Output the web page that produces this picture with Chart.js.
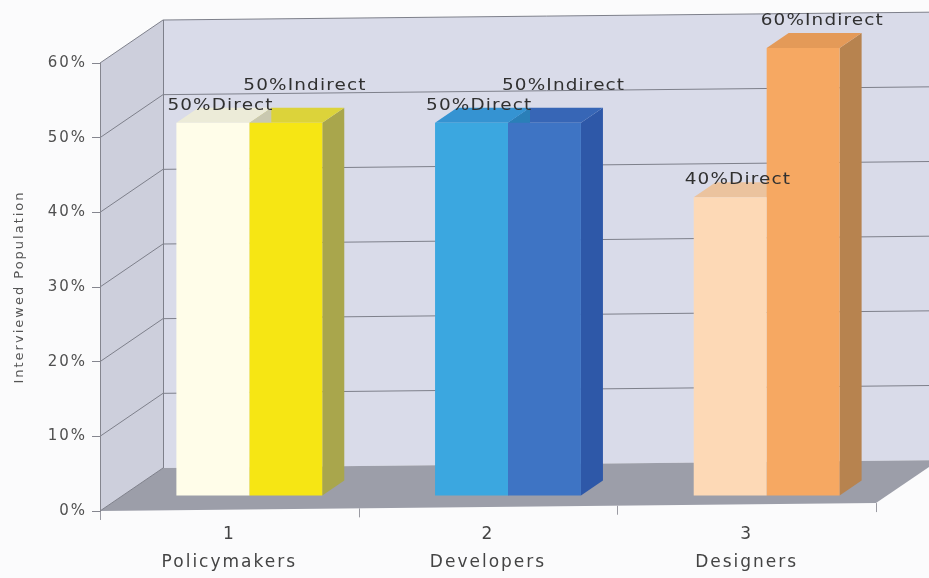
<!DOCTYPE html>
<html>
<head>
<meta charset="utf-8">
<script src="https://cdn.jsdelivr.net/npm/chart.js@4.4.1/dist/chart.umd.min.js"></script>
<style>
  html, body { margin: 0; padding: 0; background: #fbfbfc; }
</style>
</head>
<body>
<canvas id="surveyChart" width="929" height="578"></canvas>
<script>
const categories = [['1', 'Policymakers'], ['2', 'Developers'], ['3', 'Designers']];
const direct = [50, 50, 40];
const indirect = [50, 50, 60];
const yTicks = [0, 10, 20, 30, 40, 50, 60];

// front / top / side shades, one row per series
const frontColors = [['#fffde9', '#3ba7e0', '#fdd9b6'], ['#f6e614', '#3e74c4', '#f6a862']];
const topColors = [['#ecebd8', '#3593d2', '#ebc39e'], ['#dcd33a', '#3766b6', '#e49a58']];
const sideColors = [['#c9c8b0', '#2a7fb8', '#d4ab86'], ['#a9a64c', '#2e58a8', '#b7834f']];

const wallDepth = { x: 63, y: -43 };
const barShift = { x: 20, y: -15 };
const barDepth = { x: 22, y: -15 };
const rise = -0.0102; // back lines climb a little towards the right

function poly(ctx, pts) {
    ctx.beginPath();
    ctx.moveTo(pts[0][0], pts[0][1]);
    for (let i = 1; i < pts.length; i++) ctx.lineTo(pts[i][0], pts[i][1]);
    ctx.closePath();
    ctx.fill();
}

const depthPlugin = {
    id: 'depth',

    beforeDraw(chart) {
        const { ctx, chartArea: a, scales: { x, y } } = chart;
        ctx.letterSpacing = '2px';
        ctx.save();

        const bx = a.left + wallDepth.x;
        const far = chart.width + 80;
        const back = (px, v) => y.getPixelForValue(v) + wallDepth.y + rise * (px - bx);
        const frontY = (px) => a.bottom + rise * (px - a.left);

        ctx.strokeStyle = '#7e808b';
        ctx.lineWidth = 1;

        // side wall
        ctx.fillStyle = '#cdcfdc';
        poly(ctx, [[a.left, a.top], [bx, back(bx, 60)], [bx, back(bx, 0)], [a.left, a.bottom]]);

        // back wall
        ctx.fillStyle = '#d9dbe9';
        poly(ctx, [[bx, back(bx, 60)], [far, back(far, 60)], [far, back(far, 0)], [bx, back(bx, 0)]]);

        // floor
        ctx.fillStyle = '#9c9ea9';
        poly(ctx, [
            [a.left, a.bottom],
            [a.right, frontY(a.right)],
            [a.right + wallDepth.x, frontY(a.right) + wallDepth.y],
            [bx, back(bx, 0)]
        ]);

        // gridlines running along both walls
        ctx.beginPath();
        yTicks.forEach(v => {
            const py = y.getPixelForValue(v);
            ctx.moveTo(a.left, py);
            ctx.lineTo(bx, back(bx, v));
            if (v > 0) ctx.lineTo(far, back(far, v));
        });
        ctx.moveTo(bx + 0.5, back(bx, 60));
        ctx.lineTo(bx + 0.5, back(bx, 0));
        ctx.stroke();

        // category ticks under the floor edge
        ctx.strokeStyle = '#9a9aa2';
        ctx.beginPath();
        for (let k = 0; k <= categories.length; k++) {
            const px = Math.round(x.getPixelForDecimal(k / categories.length)) + 0.5;
            ctx.moveTo(px, frontY(px));
            ctx.lineTo(px, frontY(px) + 9);
        }
        ctx.stroke();
        ctx.restore();
    },

    // side and top faces go down first, the library then paints the front faces over them
    beforeDatasetsDraw(chart) {
        const ctx = chart.ctx;
        ctx.save();
        ctx.translate(barShift.x, barShift.y);
        for (let i = chart.data.datasets.length - 1; i >= 0; i--) {
            chart.getDatasetMeta(i).data.forEach((el, j) => {
                const { x, y, base, width } = el.getProps(['x', 'y', 'base', 'width'], true);
                const l = x - width / 2, r = x + width / 2;
                ctx.fillStyle = sideColors[i][j];
                poly(ctx, [[r, y], [r + barDepth.x, y + barDepth.y], [r + barDepth.x, base + barDepth.y], [r, base]]);
                ctx.fillStyle = topColors[i][j];
                poly(ctx, [[l, y], [l + barDepth.x, y + barDepth.y], [r + barDepth.x, y + barDepth.y], [r, y]]);
            });
        }
    },

    afterDatasetsDraw(chart) {
        const ctx = chart.ctx;
        ctx.restore();
        ctx.font = '16px "DejaVu Sans", sans-serif';
        ctx.fillStyle = '#303030';
        ctx.textAlign = 'left';
        ctx.textBaseline = 'middle';
        chart.data.datasets.forEach((ds, i) => {
            chart.getDatasetMeta(i).data.forEach((el, j) => {
                const { x, y, width } = el.getProps(['x', 'y', 'width'], true);
                const left = x - width / 2 + barShift.x;
                const top = y + barShift.y;
                const text = ds.data[j] + '%' + ds.label;
                const tx = i === 0 ? left - 9 : left - 6;
                const ty = i === 0 ? top - 17 : Math.max(top - 37, 21);
                // wide, slightly stretched label face
                ctx.save();
                ctx.letterSpacing = '1px';
                ctx.translate(tx, ty);
                ctx.scale(1.15, 1);
                ctx.fillText(text, 0, 0);
                ctx.restore();
            });
        });
    }
};

Chart.defaults.font.family = '"DejaVu Sans", sans-serif';

new Chart(document.getElementById('surveyChart'), {
    type: 'bar',
    data: {
        labels: categories,
        datasets: [
            {
                label: 'Direct',
                data: direct,
                backgroundColor: frontColors[0],
                borderWidth: 0,
                clip: false
            },
            {
                label: 'Indirect',
                data: indirect,
                backgroundColor: frontColors[1],
                borderWidth: 0,
                clip: false
            }
        ]
    },
    options: {
        responsive: false,
        animation: false,
        devicePixelRatio: 1,
        layout: { padding: { top: 63, right: 53, left: 0, bottom: 0 } },
        datasets: {
            bar: { categoryPercentage: 0.564, barPercentage: 1 }
        },
        plugins: {
            legend: { display: false },
            tooltip: { enabled: false }
        },
        scales: {
            x: {
                grid: { display: false, drawTicks: false },
                border: { display: false },
                ticks: {
                    color: '#444',
                    padding: 10,
                    font: { size: 17, lineHeight: 1.65 },
                    maxRotation: 0
                },
                afterFit: (scale) => { scale.height = 67; }
            },
            y: {
                min: 0,
                max: 60,
                afterBuildTicks: (scale) => { scale.ticks = yTicks.map(v => ({ value: v })); },
                grid: { drawOnChartArea: false, drawTicks: true, tickLength: 8, color: '#85868f' },
                border: { color: '#85868f' },
                ticks: {
                    color: '#505050',
                    padding: 5,
                    font: { size: 15 },
                    callback: (v) => v + '%'
                },
                title: {
                    display: true,
                    text: 'Interviewed Population',
                    color: '#555',
                    font: { size: 13 },
                    padding: { top: 12, bottom: 0 }
                },
                afterFit: (scale) => { scale.width = 100; }
            }
        }
    },
    plugins: [depthPlugin]
});
</script>
</body>
</html>
